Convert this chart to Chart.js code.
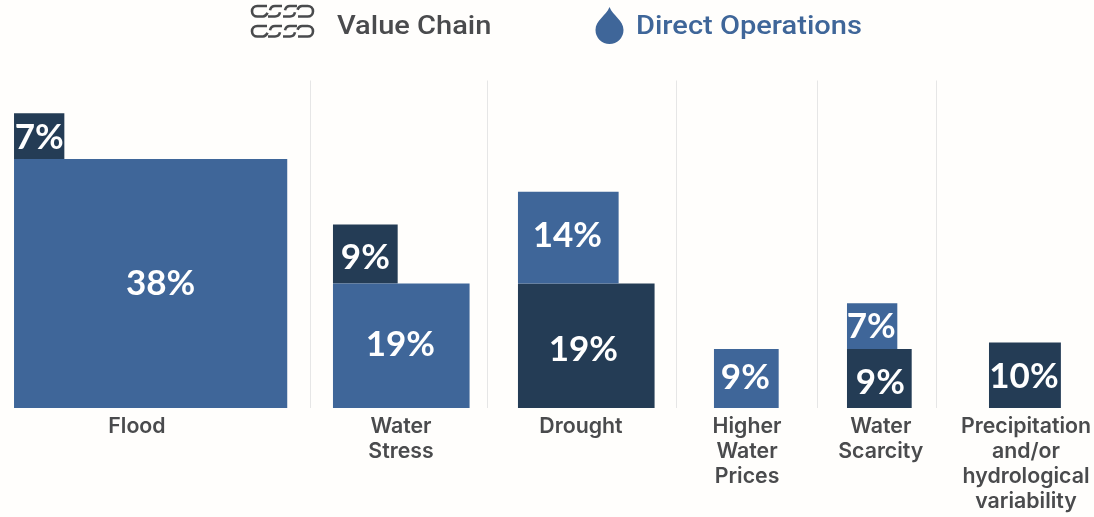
<!DOCTYPE html>
<html><head><meta charset="utf-8">
<style>html,body{margin:0;padding:0;background:#fffefc;overflow:hidden}canvas{display:block}</style>
<script src="https://cdn.jsdelivr.net/npm/chart.js@4/dist/chart.umd.min.js"></script>
</head><body><canvas id="c" width="1094" height="517"></canvas>
<script>
const categories = [
  ['Flood'],
  ['Water','Stress'],
  ['Drought'],
  ['Higher','Water','Prices'],
  ['Water','Scarcity'],
  ['Precipitation','and/or','hydrological','variability']
];
const valueChain = [7, 9, 19, null, 9, 10];
const directOperations = [38, 19, 14, 9, 7, null];

// Axis layout, in x-scale units (1 unit = width of a 1% bar)
const groupStart = [1.95, 46.31, 72.04, 99.3, 117.8, 137.55];
const labelCenter = [19.05, 55.77, 80.8, 103.9, 122.5, 142.7];
const separators = [43.11, 67.73, 94.02, 113.63, 130.18];
const BLUE = '#3f6699', DARK = '#243c55', GREY = '#4a4b4d';
// Small hand-placement offsets of the value labels in the original artwork
const nudgeBlue = [[10, 0], [-1, -1], [-1, -2], [-1, -1], [-1, 1]];
const nudgeDark = [[0, 2], [0, 4], [-3, 4], [1, 4], [-1, 1]];

function points(own, other) {
  const out = [];
  own.forEach((v, i) => {
    if (v == null) return;
    const o = other[i] == null ? 0 : other[i];
    const lo = v >= o ? 0 : o;
    out.push({ x: groupStart[i] + v / 2, y: [lo, lo + v] });
  });
  return out;
}

class VariableBar extends Chart.BarController {
  _calculateBarIndexPixels(index) {
    const sx = this._cachedMeta.iScale;
    const p = this.getParsed(index);
    const v = p._custom.barEnd - p._custom.barStart;
    const center = sx.getPixelForValue(p.x);
    const size = sx.getPixelForValue(v) - sx.getPixelForValue(0);
    return { size, base: center - size / 2, head: center + size / 2, center };
  }
}
VariableBar.id = 'variableBar';
Chart.register(VariableBar);

const separatorPlugin = {
  id: 'separators',
  beforeDatasetsDraw(chart) {
    const { ctx, scales: { x, y } } = chart;
    ctx.save();
    ctx.strokeStyle = '#e6e6e6';
    ctx.lineWidth = 1;
    separators.forEach(s => {
      const px = Math.round(x.getPixelForValue(s)) + 0.5;
      ctx.beginPath();
      ctx.moveTo(px, y.getPixelForValue(50));
      ctx.lineTo(px, y.getPixelForValue(0));
      ctx.stroke();
    });
    ctx.restore();
  }
};

const valueLabels = {
  id: 'valueLabels',
  afterDatasetsDraw(chart) {
    const { ctx } = chart;
    ctx.save();
    ctx.fillStyle = '#ffffff';
    ctx.font = 'bold 35px Lato';
    ctx.textAlign = 'center';
    ctx.textBaseline = 'middle';
    chart.data.datasets.forEach((ds, d) => {
      const nudges = d === 0 ? nudgeBlue : nudgeDark;
      chart.getDatasetMeta(d).data.forEach((el, i) => {
        const p = ds.data[i];
        const v = p.y[1] - p.y[0];
        const c = el.getCenterPoint();
        ctx.fillText(v + '%', c.x + nudges[i][0], c.y + nudges[i][1]);
      });
    });
    ctx.restore();
  }
};

function drawChainRow(ctx, x, y) {
  const h = 10.5, r = h / 2;
  ctx.beginPath();
  // left C
  ctx.moveTo(x + 15, y);
  ctx.lineTo(x + r, y);
  ctx.arc(x + r, y + r, r, -Math.PI / 2, Math.PI / 2, true);
  ctx.lineTo(x + 11, y + h);
  ctx.quadraticCurveTo(x + 14, y + h, x + 15.5, y + h * 0.65);
  // right reversed C
  ctx.moveTo(x + 46, y + h);
  ctx.lineTo(x + 61 - r, y + h);
  ctx.arc(x + 61 - r, y + r, r, Math.PI / 2, -Math.PI / 2, true);
  ctx.lineTo(x + 50, y);
  ctx.quadraticCurveTo(x + 47, y, x + 45.5, y + h * 0.35);
  // two S links
  [23, 38].forEach(cx => {
    ctx.moveTo(x + cx + 7, y);
    ctx.lineTo(x + cx, y);
    ctx.quadraticCurveTo(x + cx - 4, y, x + cx - 5, y + h * 0.4);
    ctx.moveTo(x + cx + 5, y + h * 0.6);
    ctx.quadraticCurveTo(x + cx + 4, y + h, x + cx, y + h);
    ctx.lineTo(x + cx - 7, y + h);
  });
  ctx.stroke();
}

function stretchedText(ctx, text, x, y, sx) {
  ctx.save();
  ctx.translate(x, y);
  ctx.scale(sx, 1);
  ctx.fillText(text, 0, 0);
  ctx.restore();
}

const legendHeader = {
  id: 'legendHeader',
  afterDraw(chart) {
    const { ctx } = chart;
    ctx.save();
    ctx.strokeStyle = GREY;
    ctx.lineWidth = 2.6;
    drawChainRow(ctx, 252, 6);
    drawChainRow(ctx, 252, 26);
    ctx.font = '500 26px Roboto';
    ctx.textBaseline = 'middle';
    ctx.textAlign = 'left';
    ctx.fillStyle = GREY;
    stretchedText(ctx, 'Value Chain', 337, 27, 1.117);
    ctx.fillStyle = BLUE;
    stretchedText(ctx, 'Direct Operations', 636, 27, 1.117);
    // water drop
    ctx.beginPath();
    ctx.moveTo(609.5, 7);
    ctx.bezierCurveTo(613, 16, 623.5, 20, 623.5, 30);
    ctx.arc(609.5, 30, 14, 0, Math.PI, false);
    ctx.bezierCurveTo(595.5, 20, 606, 16, 609.5, 7);
    ctx.closePath();
    ctx.fill();
    ctx.restore();
  }
};

new Chart(document.getElementById('c'), {
  type: 'variableBar',
  data: {
    datasets: [
      { label: 'Direct Operations', data: points(directOperations, valueChain), backgroundColor: BLUE, grouped: false },
      { label: 'Value Chain', data: points(valueChain, directOperations), backgroundColor: DARK, grouped: false }
    ]
  },
  plugins: [separatorPlugin, valueLabels, legendHeader],
  options: {
    responsive: false,
    animation: false,
    layout: { padding: 0 },
    plugins: { legend: { display: false }, title: { display: false }, tooltip: { enabled: false } },
    scales: {
      x: {
        type: 'linear',
        offset: false,
        min: 0,
        max: 1094 / 7.19,
        border: { display: false },
        grid: { display: false, drawTicks: false },
        afterBuildTicks(s) { s.ticks = labelCenter.map(v => ({ value: v })); },
        afterFit(s) { s.height = 109; s.paddingLeft = 0; s.paddingRight = 0; },
        ticks: {
          autoSkip: false,
          maxRotation: 0,
          minRotation: 0,
          padding: 6,
          color: GREY,
          font: { family: 'Inter', weight: '600', size: 21.3, lineHeight: 1.18 },
          callback(value, index) { return categories[index]; }
        }
      },
      y: {
        type: 'linear',
        display: false,
        min: 0,
        max: 408 / 6.55,
        stacked: false
      }
    }
  }
});
</script></body></html>
